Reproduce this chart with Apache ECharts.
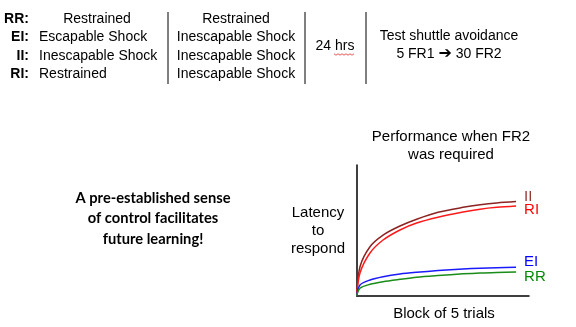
<!DOCTYPE html>
<html><head><meta charset="utf-8">
<script src="https://cdn.jsdelivr.net/npm/echarts@6/dist/echarts.min.js"></script>
<style>html,body{margin:0;padding:0;background:#fff}#c{width:576px;height:327px}</style>
</head><body><div id="c"></div>
<script>
// Trial position (arbitrary units along "Block of 5 trials")
const xs = [0, 1.9, 7.7, 15.3, 25.1, 34.8, 47.2, 61.7, 71.6, 81.3, 92.5];
// Latency (arbitrary units)
const II = [0, 22.2, 37.5, 46.4, 53.3, 58.5, 63.8, 67.6, 69.6, 71.0, 72.0];
const RI = [0, 17.4, 32.7, 42.6, 50.3, 55.6, 60.0, 64.0, 66.2, 67.6, 68.6];
const EI = [0, 8.2, 12.0, 14.5, 16.6, 17.9, 19.2, 20.4, 21.0, 21.4, 21.7];
const RR = [0, 5.7, 8.7, 10.7, 12.5, 14.1, 15.4, 16.7, 17.4, 17.8, 18.1];
const seriesNames = ['II', 'RI', 'EI', 'RR'];
const rowCodes = ['RR:', 'EI:', 'II:', 'RI:'];
const col1 = ['Restrained', 'Escapable Shock', 'Inescapable Shock', 'Restrained'];
const col2 = ['Restrained', 'Inescapable Shock', 'Inescapable Shock', 'Inescapable Shock'];

const F = 'Arial, "Liberation Sans", sans-serif';
const chart = echarts.init(document.getElementById('c'));
const pair = a => xs.map((x, i) => [x, a[i]]);
const colors = {II: '#8b2323', RI: '#ff1a1a', EI: '#1a1aff', RR: '#1a8c1a'};
const labelColors = {II: '#953735', RI: '#ff0000', EI: '#0000ff', RR: '#008a00'};
const offs = {II: [0, -5], RI: [0, 4], EI: [0, -5], RR: [0, 5]};
const data = {II, RI, EI, RR};

const rowY = [19, 37, 56, 74];
const g = [];
rowCodes.forEach((t, i) => g.push({type: 'text', style: {text: t, x: 29, y: rowY[i], align: 'right', verticalAlign: 'middle', font: 'bold 14px ' + F, fill: '#000'}}));
col1.forEach((t, i) => g.push({type: 'text', style: {text: t, x: i === 0 ? 97 : 39, y: rowY[i], align: i === 0 ? 'center' : 'left', verticalAlign: 'middle', font: '14px ' + F, fill: '#000'}}));
col2.forEach((t, i) => g.push({type: 'text', style: {text: t, x: 236, y: rowY[i], align: 'center', verticalAlign: 'middle', font: '14px ' + F, fill: '#000'}}));
[168, 305, 366].forEach(x => g.push({type: 'line', shape: {x1: x, y1: 12, x2: x, y2: 84}, style: {stroke: '#000', lineWidth: 1}}));
g.push({type: 'text', style: {text: '24 hrs', x: 335, y: 46, align: 'center', verticalAlign: 'middle', font: '14px ' + F, fill: '#000'}});
// spell-check squiggle
const sq = []; for (let k = 0; k <= 10; k++) sq.push([334 + k * 2, 54 + (k % 2 ? 1.2 : -0.2)]);
g.push({type: 'polyline', shape: {points: sq}, style: {stroke: '#e03030', lineWidth: 0.8, fill: null}});
g.push({type: 'text', style: {text: 'Test shuttle avoidance', x: 449, y: 36, align: 'center', verticalAlign: 'middle', font: '14px ' + F, fill: '#000'}});
g.push({type: 'text', style: {rich: {a: {font: '14px ' + F}, b: {font: 'bold 16px "DejaVu Sans"'}}, text: '{a|5 FR1 }{b|➔}{a| 30 FR2}', x: 449, y: 54, align: 'center', verticalAlign: 'middle', fill: '#000'}});
['A pre-established sense', 'of control facilitates', 'future learning!'].forEach((t, i) => g.push({type: 'text', style: {text: t, x: 153, y: 198 + i * 20.7, align: 'center', verticalAlign: 'middle', font: 'bold 14.7px Lato, "Open Sans", sans-serif', fill: '#000'}}));
['Performance when FR2', 'was required'].forEach((t, i) => g.push({type: 'text', style: {text: t, x: 451, y: 137 + i * 17.5, align: 'center', verticalAlign: 'middle', font: '15px ' + F, fill: '#000'}}));
['Latency', 'to', 'respond'].forEach((t, i) => g.push({type: 'text', style: {text: t, x: 318, y: 213 + i * 18, align: 'center', verticalAlign: 'middle', font: '15px ' + F, fill: '#000'}}));
g.push({type: 'text', style: {text: 'Block of 5 trials', x: 444, y: 314, align: 'center', verticalAlign: 'middle', font: '15px ' + F, fill: '#000'}});

chart.setOption({
  animation: false,
  grid: {left: 356.7, right: 47, top: 165, bottom: 31.3},
  xAxis: {type: 'value', min: 0, max: 100, axisLine: {lineStyle: {color: '#000', width: 1.5}}, axisTick: {show: false}, axisLabel: {show: false}, splitLine: {show: false}},
  yAxis: {type: 'value', min: 0, max: 100, axisLine: {show: true, lineStyle: {color: '#000', width: 1.5}}, axisTick: {show: false}, axisLabel: {show: false}, splitLine: {show: false}},
  graphic: g,
  series: seriesNames.map(n => ({
    name: n, type: 'line', data: pair(data[n]), smooth: 0.3, showSymbol: false,
    lineStyle: {color: colors[n], width: 1.5},
    endLabel: {show: true, formatter: n, color: labelColors[n], fontSize: 15, fontFamily: F, distance: 8, offset: offs[n]}
  }))
});
</script></body></html>
